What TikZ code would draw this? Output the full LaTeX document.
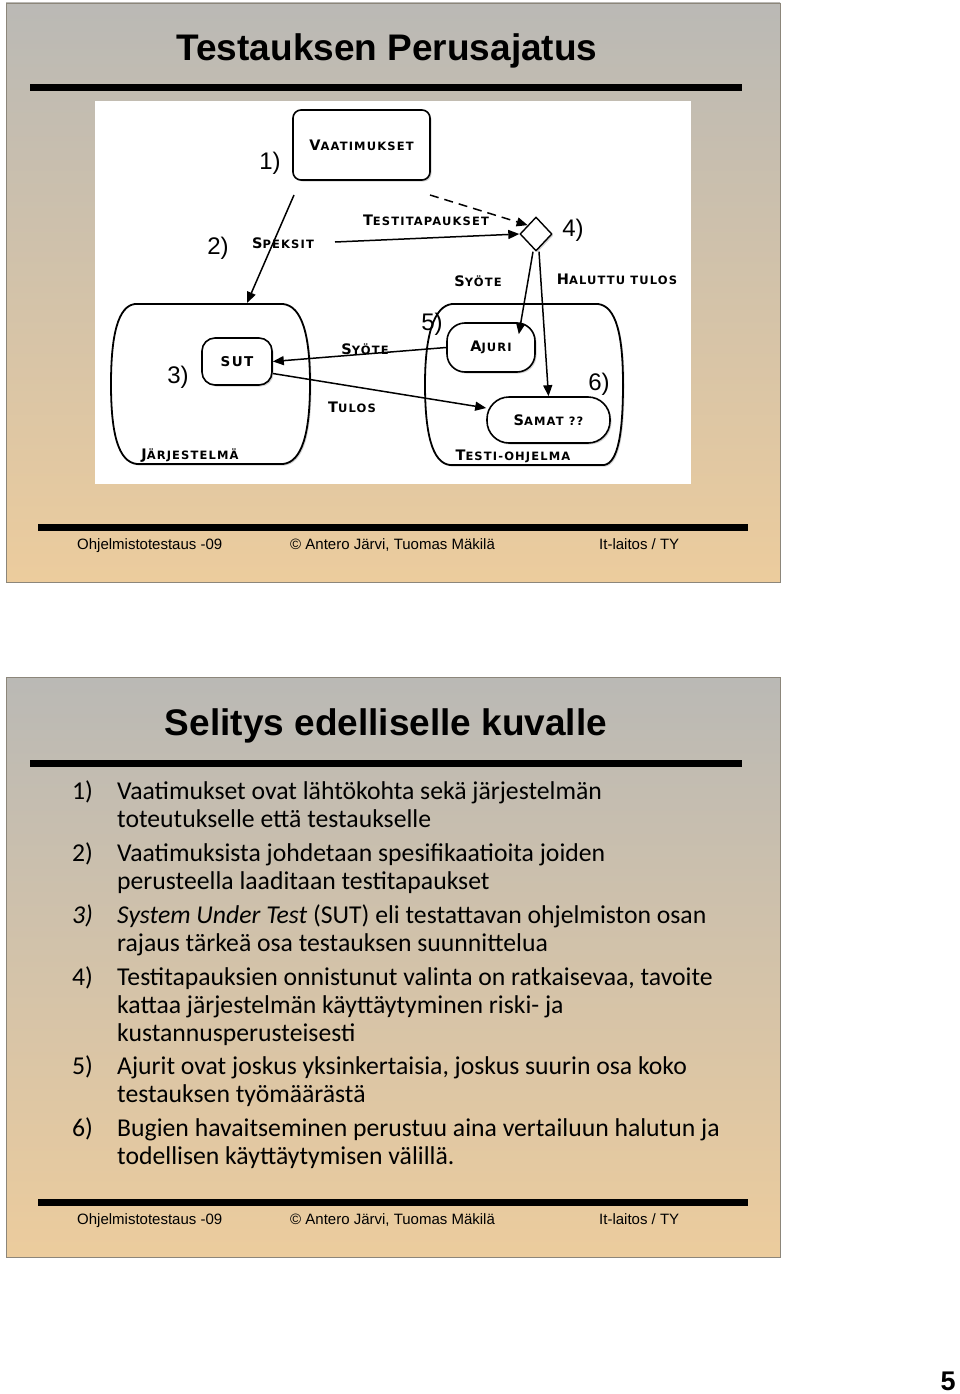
\documentclass[tikz,border=0pt]{standalone}
\usepackage{fontspec}
\setmainfont{Liberation Sans}
\newfontfamily\listfont{Carlito}
\newfontfamily\capfont[LetterSpace=10]{DejaVu Sans}
\usepackage{tikz}
\usetikzlibrary{arrows.meta,shapes.geometric,shadows}

\definecolor{slidegray}{RGB}{186,185,181}
\definecolor{slidetan}{RGB}{236,204,157}
\definecolor{slideedge}{RGB}{140,134,122}
\newcommand{\initcap}[2]{{\fontsize{14.5}{14.5}\selectfont #1}#2}

\begin{document}
\begin{tikzpicture}[
  x=1pt,
  y=-1pt,
  slide/.style={draw=slideedge, line width=0.8pt, top color=slidegray, bottom color=slidetan},
  rule/.style={line width=7pt},
  title/.style={font=\bfseries\fontsize{37}{40}\selectfont, anchor=base, inner sep=0pt},
  foot/.style={font=\fontsize{15}{17}\selectfont, anchor=base west, inner sep=0pt},
  item/.style={font=\listfont\fontsize{25.7}{28}\selectfont, anchor=base west, inner sep=0pt},
  caps/.style={font=\capfont\bfseries\fontsize{11.5}{13}\selectfont, inner sep=0pt},
  box/.style={caps, draw, line width=1.6pt, fill=white, inner sep=0pt,
    drop shadow={shadow xshift=1.5pt, shadow yshift=-1.5pt, opacity=0.35}},
  group/.style={draw, line width=1.8pt, fill=white,
    drop shadow={shadow xshift=1.5pt, shadow yshift=-1.5pt, opacity=0.35}},
  flow/.style={line width=1.5pt, -{Triangle[length=11pt,width=9pt]}},
  marker/.style={font=\fontsize{24}{26}\selectfont, inner sep=0pt}
]
\useasboundingbox (0,0) rectangle (960,1394);
\fill[white] (0,0) rectangle (960,1394);

% slide 1
\draw[slide] (6,3) rectangle (780,582);
\node[title] (title1) at (387,61) {Testauksen Perusajatus};
\draw[rule] (30,88) -- (742,88);
\fill[white] (95,101) rectangle (691,484);

% system and test program
\path[group] (135,304) -- (283,304)
  .. controls (302,306) and (310,335) .. (310,384)
  .. controls (310,433) and (302,462) .. (283,464) -- (137,464)
  .. controls (118,462) and (111,433) .. (111,384)
  .. controls (111,335) and (118,306) .. (135,304) -- cycle;
\path[group] (452,304) -- (598,304)
  .. controls (616,306) and (623,335) .. (623,384)
  .. controls (623,433) and (618,463) .. (604,465) -- (450,465)
  .. controls (432,463) and (425,433) .. (425,384)
  .. controls (425,335) and (434,306) .. (452,304) -- cycle;
\node[caps] (jarj) at (190,456) {\initcap{J}{ÄRJESTELMÄ}};
\node[caps] (testiohj) at (513,456) {\initcap{T}{ESTI-OHJELMA}};

% boxes
\node[box, rounded corners=8pt, minimum width=137pt, minimum height=70pt] (vaat) at (361.5,145) {\initcap{V}{AATIMUKSET}};
\node[box, rounded corners=13pt, minimum width=70pt, minimum height=47pt, font=\capfont\bfseries\fontsize{13.5}{13.5}\selectfont] (sut) at (237,361.5) {SUT};
\node[box, rounded corners=18pt, minimum width=88pt, minimum height=49pt] (ajuri) at (491,347.5) {\initcap{A}{JURI}};
\node[box, rounded corners=22pt, minimum width=123pt, minimum height=46pt] (samat) at (548.5,420) {\initcap{S}{AMAT ??}};
\node[diamond, draw, line width=1.4pt, fill=white, minimum width=32pt, minimum height=34pt, inner sep=0pt,
  drop shadow={shadow xshift=1.5pt, shadow yshift=-1.5pt, opacity=0.35}] (diam) at (536,234) {};

% connectors
\coordinate (spekStart) at (294,195);
\coordinate (jarjTop) at (247,303);
\coordinate (dashStart) at (430,195);
\coordinate (tcStart) at (335,242);
\draw[flow] (spekStart) -- (jarjTop);
\draw[flow, dash pattern=on 9pt off 6pt] (dashStart) -- (diam.north west);
\draw[flow] (tcStart) -- (diam.west);
\draw[flow] ([xshift=-3pt]diam.south) -- ([xshift=-17pt,yshift=-12pt]ajuri.north east);
\draw[flow] ([xshift=3pt]diam.south) -- (samat.north);
\draw[flow] (ajuri.west) -- (sut.east);
\draw[flow] ([yshift=-12pt]sut.east) -- ([yshift=12pt]samat.west);

% connector labels
\node[caps] (lSpeksit) at (283,243) {\initcap{S}{PEKSIT}};
\node[caps] (lTapaukset) at (426,220) {\initcap{T}{ESTITAPAUKSET}};
\node[caps] (lSyote1) at (478,281) {\initcap{S}{YÖTE}};
\node[caps] (lHaluttu) at (617,279) {\initcap{H}{ALUTTU TULOS}};
\node[caps] (lSyote2) at (365,349) {\initcap{S}{YÖTE}};
\node[caps] (lTulos) at (352,407) {\initcap{T}{ULOS}};

% numbers
\node[marker] (m1) at (270,163) {1)};
\node[marker] (m2) at (218,248) {2)};
\node[marker] (m3) at (178,377) {3)};
\node[marker] (m4) at (573,230) {4)};
\node[marker] (m5) at (432,324) {5)};
\node[marker] (m6) at (599,384) {6)};

% footer 1
\draw[rule] (38,527) -- (748,527);
\node[foot] (f1a) at (77,549) {Ohjelmistotestaus -09};
\node[foot] (f1b) at (290,549) {© Antero Järvi, Tuomas Mäkilä};
\node[foot] (f1c) at (599,549) {It-laitos / TY};

% slide 2
\draw[slide] (6,677) rectangle (780,1257);
\node[title] (title2) at (386,735) {Selitys edelliselle kuvalle};
\draw[rule] (30,763) -- (742,763);

\node[item] (n1) at (72,799) {1)};
\node[item] (t1a) at (117,799) {Vaatimukset ovat lähtökohta sekä järjestelmän};
\node[item] (t1b) at (117,827) {toteutukselle että testaukselle};
\node[item] (n2) at (72,861) {2)};
\node[item] (t2a) at (117,861) {Vaatimuksista johdetaan spesifikaatioita joiden};
\node[item] (t2b) at (117,889) {perusteella laaditaan testitapaukset};
\node[item] (n3) at (72,923) {\itshape 3)};
\node[item] (t3a) at (117,923) {\textit{System Under Test} (SUT) eli testattavan ohjelmiston osan};
\node[item] (t3b) at (117,951) {rajaus tärkeä osa testauksen suunnittelua};
\node[item] (n4) at (72,985) {4)};
\node[item] (t4a) at (117,985) {Testitapauksien onnistunut valinta on ratkaisevaa, tavoite};
\node[item] (t4b) at (117,1013) {kattaa järjestelmän käyttäytyminen riski- ja};
\node[item] (t4c) at (117,1041) {kustannusperusteisesti};
\node[item] (n5) at (72,1074) {5)};
\node[item] (t5a) at (117,1074) {Ajurit ovat joskus yksinkertaisia, joskus suurin osa koko};
\node[item] (t5b) at (117,1102) {testauksen työmäärästä};
\node[item] (n6) at (72,1136) {6)};
\node[item] (t6a) at (117,1136) {Bugien havaitseminen perustuu aina vertailuun halutun ja};
\node[item] (t6b) at (117,1164) {todellisen käyttäytymisen välillä.};

% footer 2
\draw[rule] (38,1202) -- (748,1202);
\node[foot] (f2a) at (77,1224) {Ohjelmistotestaus -09};
\node[foot] (f2b) at (290,1224) {© Antero Järvi, Tuomas Mäkilä};
\node[foot] (f2c) at (599,1224) {It-laitos / TY};

% page number
\node[font=\bfseries\fontsize{27}{29}\selectfont, anchor=base, inner sep=0pt] (pagenum) at (948,1390) {5};
\end{tikzpicture}
\end{document}
